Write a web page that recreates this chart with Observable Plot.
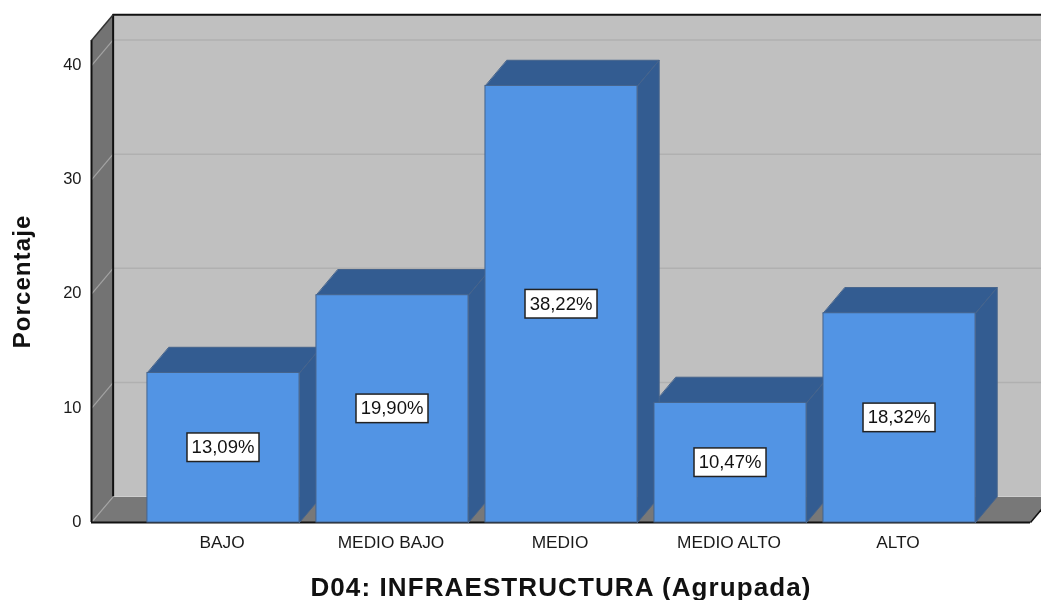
<!DOCTYPE html>
<html>
<head>
<meta charset="utf-8">
<script src="https://cdn.jsdelivr.net/npm/d3@7"></script>
<script src="https://cdn.jsdelivr.net/npm/@observablehq/plot@0.6"></script>
<style>
html,body{margin:0;padding:0;background:#fff;overflow:hidden}
svg{display:block;filter:blur(0.4px)}
.xt text{letter-spacing:1.1px}
.yt text{letter-spacing:1.1px}
</style>
</head>
<body>
<div id="chart"></div>
<script>
const categories = ["BAJO", "MEDIO BAJO", "MEDIO", "MEDIO ALTO", "ALTO"];
const percentages = [13.09, 19.90, 38.22, 10.47, 18.32];
const yTicks = [0, 10, 20, 30, 40];
const xTitle = "D04: INFRAESTRUCTURA (Agrupada)";
const yTitle = "Porcentaje";

const xMin = -0.781, xMax = 4.775, yMax = 42.2;
const depthX = 0.128, depthY = 2.25, halfBar = 0.45;
const boxW = 0.213, boxH = 1.25;
const fmt = v => v.toFixed(2).replace(".", ",") + "%";

const rows = categories.map((c, i) => ({c, i, v: percentages[i], x1: i - halfBar, x2: i + halfBar}));

const poly = (k, pts) => pts.map(([x, y]) => ({k, x, y}));
const leftWall = poly("l", [[xMin, 0], [xMin + depthX, depthY], [xMin + depthX, yMax + depthY], [xMin, yMax]]);
const floor = poly("f", [[xMin, 0], [xMax, 0], [xMax + depthX, depthY], [xMin + depthX, depthY]]);
const tops = rows.flatMap(r => poly(r.c, [[r.x1, r.v], [r.x2, r.v], [r.x2 + depthX, r.v + depthY], [r.x1 + depthX, r.v + depthY]]));
const sides = rows.flatMap(r => poly(r.c, [[r.x2, 0], [r.x2 + depthX, depthY], [r.x2 + depthX, r.v + depthY], [r.x2, r.v]]));
const polyOpts = (fill, stroke) => ({x: "x", y: "y", z: "k", fill, stroke, strokeWidth: 1, curve: "linear-closed"});

const blue = "#5294e4", dark = "#335c91", edge = "#46648c";

const chart = Plot.plot({
  width: 1041,
  height: 600,
  marginLeft: 91, marginRight: 11, marginTop: 40, marginBottom: 78,
  x: {domain: [xMin, xMax], axis: null},
  y: {domain: [0, yMax], axis: null},
  style: {fontFamily: "'Liberation Sans', Arial, sans-serif", background: "#fff", color: "#1a1a1a"},
  marks: [
    Plot.rect([0], {x1: xMin + depthX, x2: xMax + depthX, y1: depthY, y2: yMax + depthY, fill: "#c0c0c0"}),
    Plot.ruleY(yTicks.filter(t => t > 0), {y: t => t + depthY, x1: xMin + depthX, x2: xMax + depthX, stroke: "#b0b0b0", strokeWidth: 1.5}),
    Plot.line(leftWall, polyOpts("#737373", "none")),
    Plot.line(floor, polyOpts("#787878", "none")),
    Plot.link(yTicks, {x1: xMin, y1: t => t, x2: xMin + depthX, y2: t => t + depthY, stroke: "#a3a3a3", strokeWidth: 1.2}),
    Plot.ruleX([xMin + depthX], {y1: depthY, y2: yMax + depthY, stroke: "#111", strokeWidth: 2}),
    Plot.ruleX([xMin], {y1: 0, y2: yMax, stroke: "#111", strokeWidth: 2}),
    Plot.ruleY([yMax + depthY], {x1: xMin + depthX, x2: xMax + depthX, stroke: "#111", strokeWidth: 2}),
    Plot.link([0], {x1: xMin, y1: yMax, x2: xMin + depthX, y2: yMax + depthY, stroke: "#333", strokeWidth: 1.5}),
    Plot.ruleY([0], {x1: xMin, x2: xMax, stroke: "#111", strokeWidth: 2}),
    Plot.link([0], {x1: xMax, y1: 0, x2: xMax + depthX, y2: depthY, stroke: "#111", strokeWidth: 1.5}),
    Plot.line(tops, polyOpts(dark, edge)),
    Plot.line(sides, polyOpts(dark, edge)),
    Plot.rectY(rows, {x1: "x1", x2: "x2", y: "v", fill: blue, stroke: edge, strokeWidth: 1}),
    Plot.rect(rows, {x1: r => r.i - boxW, x2: r => r.i + boxW, y1: r => r.v / 2 - boxH, y2: r => r.v / 2 + boxH, fill: "#fff", stroke: "#222", strokeWidth: 1.5}),
    Plot.text(rows, {x: "i", y: r => r.v / 2, dx: -0.5, dy: -0.5, text: r => fmt(r.v), fontSize: 18.5, fill: "#111"}),
    Plot.axisY({ticks: yTicks, label: null, tickSize: 0, tickPadding: 10, dy: -1, fontSize: 16.5, anchor: "left"}),
    Plot.axisX({ticks: categories.map((c, i) => i), tickFormat: i => categories[i], label: null, tickSize: 0, tickPadding: 13, dx: -1.5, fontSize: 17.3, anchor: "bottom"}),
    Plot.text([yTitle], {frameAnchor: "left", textAnchor: "middle", dx: -69, rotate: -90, fontSize: 24, fontWeight: "bold", fill: "#111", className: "yt"}),
    Plot.text([xTitle], {frameAnchor: "bottom", textAnchor: "middle", dy: 73, fontSize: 26, fontWeight: "bold", fill: "#111", className: "xt"})
  ]
});
document.getElementById("chart").appendChild(chart);
</script>
</body>
</html>
